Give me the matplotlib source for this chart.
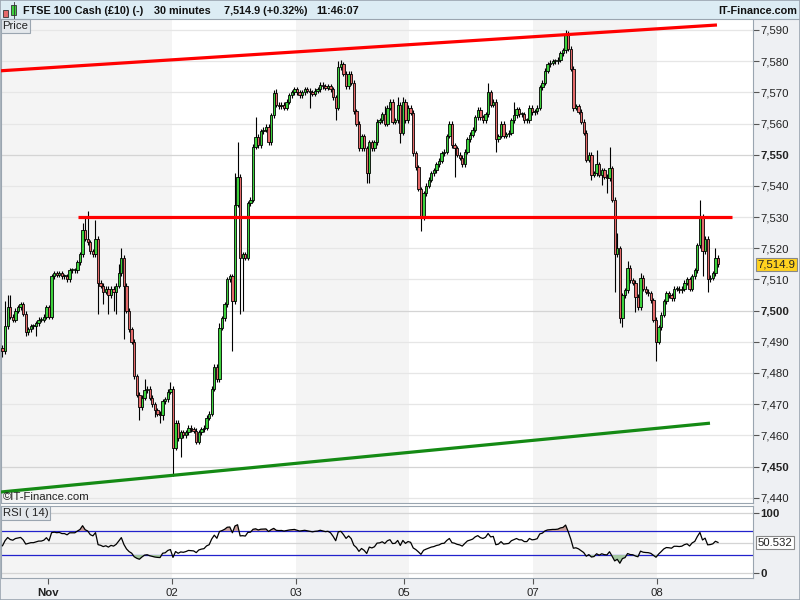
import matplotlib
matplotlib.use('Agg')
import matplotlib.pyplot as plt
import matplotlib.patches as patches
import numpy as np

plt.rcParams['font.family'] = ['Liberation Sans', 'DejaVu Sans']

# ==========================================
# 1. data (30 minute candles)
# ==========================================
close_oct31 = [7487, 7495, 7501, 7498, 7497, 7500, 7501, 7502, 7499, 7493,
               7494, 7495, 7495, 7496, 7497, 7497, 7498, 7501]
close_nov01 = [7498, 7511, 7512, 7511.5, 7512, 7511, 7511, 7510, 7513, 7513,
               7513, 7515.5, 7518, 7526, 7523, 7522, 7519, 7518, 7523, 7509,
               7508, 7506, 7507, 7505, 7507, 7506, 7508, 7512, 7517, 7508,
               7500, 7494, 7490, 7479, 7473, 7469, 7472, 7474.5, 7475, 7472,
               7470, 7468, 7467, 7466.5, 7471, 7471.5, 7474, 7475]
close_nov02 = [7456, 7464, 7459, 7461, 7460, 7461, 7462.5, 7462, 7461.5, 7458,
               7461, 7462, 7462.5, 7465.6, 7467, 7475, 7482, 7478, 7494.5, 7497.6,
               7502, 7510, 7511, 7503, 7534, 7543, 7517, 7518, 7517, 7534.5,
               7535.5, 7552.5, 7555.7, 7553, 7557.5, 7558, 7559, 7554, 7562.7, 7569.8,
               7566, 7565.5, 7566, 7565, 7567, 7569, 7570, 7571]
close_nov03 = [7570, 7569, 7570, 7571, 7570.5, 7570, 7569.5, 7570.5, 7571, 7572.5,
               7572, 7571.5, 7572, 7571, 7568.5, 7565, 7578, 7579, 7576, 7572,
               7576, 7573, 7564, 7560, 7552, 7556, 7552, 7544, 7554, 7552,
               7554, 7560.5, 7561, 7563, 7560, 7565, 7567, 7560.5, 7561, 7566,
               7557, 7567]
close_nov05 = [7561, 7565]
close_nov06 = [7563.4, 7550.5, 7546, 7539, 7530, 7537.6, 7540, 7542, 7544, 7545,
               7547, 7548, 7550.5, 7551, 7556, 7560, 7553, 7552, 7550, 7549,
               7547, 7551, 7555, 7556.4, 7558, 7562, 7564.4, 7562, 7561, 7563,
               7570, 7566, 7567, 7555, 7556, 7560, 7556, 7556.5, 7557, 7561,
               7562.7, 7564.6, 7563, 7563, 7561, 7561, 7565, 7563.6]
close_nov07 = [7564, 7565, 7571.7, 7573, 7577, 7579, 7579.5, 7580, 7580, 7580.5,
               7582.6, 7583.5, 7588.4, 7584, 7577.5, 7565, 7565.5, 7563.7, 7560.5, 7557,
               7548.3, 7550, 7543.5, 7544, 7547, 7543.5, 7545, 7543, 7542.5, 7545.6,
               7535.5, 7518, 7520, 7497.6, 7505, 7506.6, 7513.7, 7509.8, 7509, 7504.4,
               7501, 7510.5, 7507, 7506, 7505.5, 7503.4, 7497, 7490]
close_nov08 = [7494.7, 7498.6, 7503, 7505.5, 7505, 7504, 7507, 7507, 7506.5, 7507,
               7509, 7510, 7507, 7511, 7513, 7521, 7530, 7519, 7523, 7510,
               7510.5, 7512, 7517, 7514.9]
first_open = 7488

# long wicks (candle index -> price)
wick_high = {0: 7489, 1: 7503, 2: 7505, 3: 7505, 31: 7528, 32: 7530.5, 33: 7532,
             36: 7529, 45: 7515, 46: 7520, 55: 7478, 65: 7477, 84: 7496, 90: 7544,
             91: 7554, 98: 7562, 106: 7571, 130: 7580, 131: 7580.5, 148: 7565.5,
             150: 7568, 153: 7568.5, 155: 7568.5, 188: 7573, 198: 7567, 218: 7590,
             219: 7589.6, 230: 7551.5, 235: 7552.5, 238: 7525, 242: 7516, 247: 7512,
             270: 7535.5, 271: 7531, 276: 7520}
wick_low = {0: 7485, 1: 7486, 9: 7492, 13: 7492, 37: 7499, 39: 7502, 41: 7499,
            43: 7500, 44: 7499, 47: 7491, 53: 7465, 59: 7466, 61: 7464, 62: 7465,
            66: 7447, 69: 7453, 89: 7487, 92: 7499, 93: 7500, 97: 7550.5, 104: 7559,
            119: 7565, 129: 7561, 141: 7541, 142: 7541, 154: 7553.8, 162: 7525.5,
            175: 7543, 191: 7551, 221: 7564, 228: 7542, 232: 7540.4, 234: 7537.7,
            237: 7506, 239: 7496, 240: 7494.7, 245: 7499.5, 253: 7484, 271: 7511,
            273: 7506}

# day boundaries (candle index) and labels of the time axis
day_ticks = [17.5, 65.5, 113.5, 155.5, 205.5, 253.5]
day_labels = ['Nov', '02', '03', '05', '07', '08']
shade_spans = [(-5, 65.5), (113.5, 157.5), (205.5, 253.5)]

# trend lines drawn on the chart
upper_x, upper_y = [-0.97, 276.6], [7576.9, 7591.6]
flat_x, flat_y = [29.2, 282.4], [7530, 7530]
lower_x, lower_y = [-0.97, 273.9], [7441.8, 7463.9]

price_ticks = list(range(7440, 7600, 10))
last_price = 7514.9
rsi_last = 50.532
rsi_period = 14
# average gain / loss carried in from the candles before the visible window
rsi_seed_gain, rsi_seed_loss = 1.5, 1.8

# ==========================================
# 2. build candles
# ==========================================
closes = np.array(close_oct31 + close_nov01 + close_nov02 + close_nov03 +
                  close_nov05 + close_nov06 + close_nov07 + close_nov08, dtype=float)
opens = np.concatenate([[first_open], closes[:-1]])
n = len(closes)
idx = np.arange(n)
body_top = np.maximum(opens, closes)
body_bot = np.minimum(opens, closes)
highs = np.array([max(wick_high.get(i, 0), body_top[i] + 0.8) for i in range(n)])
lows = np.array([min(wick_low.get(i, 1e9), body_bot[i] - 0.8) for i in range(n)])

# RSI (Wilder smoothing)
rsi = np.zeros(n)
ag, al = rsi_seed_gain, rsi_seed_loss
rsi[0] = 100 * ag / (ag + al)
for i in range(1, n):
    ch = closes[i] - closes[i - 1]
    ag = (ag * (rsi_period - 1) + max(ch, 0)) / rsi_period
    al = (al * (rsi_period - 1) + max(-ch, 0)) / rsi_period
    rsi[i] = 100 * ag / (ag + al)

# ==========================================
# 3. figure
# ==========================================
W, H = 800, 600
fig = plt.figure(figsize=(8, 6), dpi=100)

def fx(px):
    return px / W

def fy(py):
    return 1 - py / H

GREY_BG = '#eef0f3'
EDGE = '#9aa5b0'
FS = 8.2

# right axis panel + bottom strip
fig.add_artist(patches.Rectangle((fx(753), fy(600)), fx(47), 580 / H, transform=fig.transFigure,
                                 facecolor=GREY_BG, edgecolor='none', zorder=0))
fig.add_artist(patches.Rectangle((0, 0), 1, 21 / H, transform=fig.transFigure,
                                 facecolor=GREY_BG, edgecolor='none', zorder=0))

# header bar
fig.add_artist(patches.Rectangle((0, fy(19)), 1, 19 / H, transform=fig.transFigure,
                                 facecolor='#dcecf4', edgecolor='none', zorder=0))
fig.add_artist(plt.Line2D([0, 1], [fy(19), fy(19)], transform=fig.transFigure, color=EDGE, lw=0.8))
# small candle icon
fig.add_artist(patches.Rectangle((fx(3), fy(17)), fx(5), 7 / H, transform=fig.transFigure,
                                 facecolor='#e46a6a', edgecolor='#333333', lw=0.6))
fig.add_artist(patches.Rectangle((fx(11), fy(15)), fx(5), 10 / H, transform=fig.transFigure,
                                 facecolor='#3dd13d', edgecolor='#333333', lw=0.6))
fig.add_artist(plt.Line2D([fx(13.5), fx(13.5)], [fy(18), fy(2)], transform=fig.transFigure,
                          color='#333333', lw=0.6))
hdr_y = fy(10.5)
for xpos, txt in [(23, 'FTSE 100 Cash (£10) (-)'), (154, '30 minutes'),
                  (224, '7,514.9 (+0.32%)'), (316, '11:46:07')]:
    fig.text(fx(xpos), hdr_y, txt, fontsize=7.8, fontweight='bold', color='#111111',
             ha='left', va='center')
fig.text(fx(797), hdr_y, 'IT-Finance.com', fontsize=7.8, fontweight='bold', color='#111111',
         ha='right', va='center')

# ---------------- price panel ----------------
ax = fig.add_axes([fx(1), fy(503), fx(752), 483 / H])
ax.set_facecolor('white')
for a, b in shade_spans:
    ax.axvspan(a, b, color='#f4f4f4', lw=0, zorder=0)
for p in price_ticks:
    ax.axhline(p, color='#d4d4d4' if p % 50 == 0 else '#e6e6e6', lw=0.9, zorder=1)

ax.vlines(idx, lows, highs, color='black', lw=0.8, zorder=2)
up = closes >= opens
ax.bar(idx[up], np.maximum(body_top - body_bot, 0.3)[up], bottom=body_bot[up], width=0.9,
       color='#3dd13d', edgecolor='black', linewidth=0.6, zorder=3)
ax.bar(idx[~up], np.maximum(body_top - body_bot, 0.3)[~up], bottom=body_bot[~up], width=0.9,
       color='#e46a6a', edgecolor='black', linewidth=0.6, zorder=3)

ax.plot(upper_x, upper_y, color='#ff0000', lw=2.3, zorder=4, solid_capstyle='butt')
ax.plot(flat_x, flat_y, color='#ff0000', lw=2.3, zorder=4, solid_capstyle='butt')
ax.plot(lower_x, lower_y, color='#148a14', lw=2.3, zorder=4, solid_capstyle='butt')

ax.set_xlim(-0.58, 290.55)
ax.set_ylim(7438.3, 7593.2)
ax.set_xticks([])
ax.tick_params(axis='x', bottom=False, labelbottom=False)
ax.yaxis.tick_right()
ax.set_yticks(price_ticks)
ax.set_yticklabels([f'{p:,}' for p in price_ticks])
ax.tick_params(axis='y', direction='out', length=4, width=0.8, color='#555555',
               pad=1.5, labelsize=FS, labelcolor='#222222')
for p, lab in zip(price_ticks, ax.get_yticklabels()):
    if p % 50 == 0:
        lab.set_fontweight('bold')
for sp in ax.spines.values():
    sp.set_color(EDGE)
    sp.set_linewidth(0.8)
ax.spines['top'].set_visible(False)

ax.text(1.006, last_price, '7,514.9', transform=ax.get_yaxis_transform(), fontsize=FS,
        ha='left', va='center', color='#222222', zorder=6, clip_on=False,
        bbox=dict(boxstyle='square,pad=0.12', facecolor='#ffd21f', edgecolor='#888888', lw=0.8))

ax.text(0.002, 0.998, 'Price', transform=ax.transAxes, fontsize=FS, ha='left', va='top',
        color='#222222', zorder=6,
        bbox=dict(boxstyle='square,pad=0.15', facecolor='#e4e8ec', edgecolor=EDGE, lw=0.8))
ax.text(0.003, 0.003, '©IT-Finance.com', transform=ax.transAxes, fontsize=FS, ha='left',
        va='bottom', color='#222222', zorder=6)

# ---------------- RSI panel ----------------
rx = fig.add_axes([fx(1), fy(578), fx(752), 72 / H])
rx.set_facecolor('white')
for a, b in shade_spans:
    rx.axvspan(a, b, color='#f4f4f4', lw=0, zorder=0)
for lvl in (0, 50, 100):
    rx.axhline(lvl, color='#d4d4d4', lw=0.9, zorder=1)
rx.axhline(70, color='#2222cc', lw=0.9, zorder=2)
rx.axhline(30, color='#2222cc', lw=0.9, zorder=2)
rx.fill_between(idx, rsi, 70, where=rsi > 70, interpolate=True, color='#c9a19c', zorder=2, lw=0)
rx.fill_between(idx, rsi, 30, where=rsi < 30, interpolate=True, color='#a5c9a2', zorder=2, lw=0)
rx.plot(idx, rsi, color='black', lw=0.9, zorder=3)
rx.set_xlim(-0.58, 290.55)
rx.set_ylim(-8.3, 111.7)
rx.yaxis.tick_right()
rx.set_yticks([0, 100])
rx.set_yticklabels(['0', '100'], fontweight='bold')
rx.tick_params(axis='y', direction='out', length=4, width=0.8, color='#555555', pad=1.5,
               labelsize=FS, labelcolor='#222222')
rx.text(1.006, rsi_last, f'{rsi_last:.3f}', transform=rx.get_yaxis_transform(), fontsize=FS,
        ha='left', va='center', color='#222222', clip_on=False,
        bbox=dict(boxstyle='square,pad=0.12', facecolor='white', edgecolor='#888888', lw=0.8))
rx.text(0.002, 0.975, 'RSI ( 14)', transform=rx.transAxes, fontsize=FS, ha='left', va='top',
        color='#222222', zorder=6,
        bbox=dict(boxstyle='square,pad=0.15', facecolor='#e4e8ec', edgecolor=EDGE, lw=0.8))

rx.set_xticks(day_ticks)
rx.set_xticklabels(day_labels)
rx.tick_params(axis='x', direction='out', length=4, width=0.8, color='#555555', pad=3,
               labelsize=FS, labelcolor='#222222')
rx.get_xticklabels()[0].set_fontweight('bold')
for sp in rx.spines.values():
    sp.set_color(EDGE)
    sp.set_linewidth(0.8)

# outer frame
fig.add_artist(patches.Rectangle((0, 0), 1, 1, transform=fig.transFigure, fill=False,
                                 edgecolor=EDGE, lw=1.2))

fig.savefig('out.png', dpi=100)
